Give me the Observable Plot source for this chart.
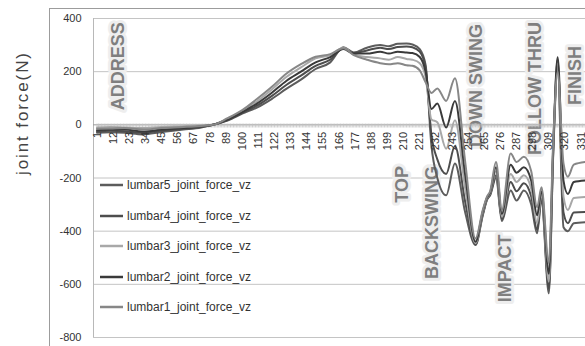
<!DOCTYPE html>
<html>
<head>
<meta charset="utf-8">
<script src="https://cdn.jsdelivr.net/npm/d3@7"></script>
<script src="https://cdn.jsdelivr.net/npm/@observablehq/plot@0.6"></script>
<style>
html,body{margin:0;padding:0;background:#fff;overflow:hidden;}
#wrap{position:relative;width:585px;height:346px;overflow:hidden;}
#border{position:absolute;left:49px;top:8px;width:700px;height:500px;border:1px solid #9c9c9c;box-sizing:border-box;pointer-events:none;}
#legend{position:absolute;left:100px;top:170px;font:12px "Liberation Sans",Arial,sans-serif;color:#333;}
#legend .item{height:30.5px;display:flex;align-items:center;}
#legend svg{display:block;margin-right:2px;}
</style>
</head>
<body>
<div id="wrap"><div id="chart"></div><div id="border"></div><div id="legend"></div></div>
<script>
const frames = [1,10,20,32,45,60,72,80, 90,100,110,120,130,140,150,160, 169,176,185,194,200,206,212,216, 221,225,229,233,239,245,252,259, 264,267,269,273,277,283,287,292, 297,301,304,309,312,315,319,322, 326,334];

const lumbar1 = [-15,-14,-12,-18,-12,-8,-4,0, 25,55,97,142,192,228,256,266, 288,262,245,232,228,232,224,222, 205,160,120,137,90,175,-140,-428, -320,-268,-250,-140,-320,-108,-140,-120, -175,-310,-235,-520,-60,200,-145,-195, -150,-140];
const lumbar2 = [-20,-18,-18,-25,-18,-12,-6,0, 20,48,80,120,165,200,235,255, 285,268,268,275,268,275,272,270, 255,200,60,80,-10,90,-190,-440, -325,-272,-255,-160,-335,-150,-180,-160, -210,-340,-250,-560,-80,254,-210,-260, -215,-209];
const lumbar3 = [-10,-8,-10,-12,-8,-5,-2,0, 23,52,88,132,180,216,250,262, 290,265,255,250,245,255,248,245, 232,180,20,10,-90,17,-240,-445, -330,-275,-258,-175,-345,-185,-215,-190, -240,-370,-262,-590,-90,230,-270,-320, -275,-271];
const lumbar4 = [-25,-22,-24,-30,-22,-15,-8,0, 18,45,72,108,150,185,222,245, 288,270,280,290,285,293,295,292, 275,215,-40,-130,-185,-80,-290,-450, -335,-278,-262,-190,-355,-215,-250,-220, -270,-395,-275,-615,-100,245,-330,-370, -330,-328];
const lumbar5 = [-30,-28,-30,-36,-27,-18,-10,0, 16,42,65,97,135,170,210,235, 292,272,290,300,296,305,306,302, 285,225,-80,-200,-265,-145,-330,-452, -340,-280,-265,-200,-362,-247,-285,-247, -300,-408,-285,-634,-110,220,-385,-400, -370,-366];

const seriesNames = ["lumbar5_joint_force_vz","lumbar4_joint_force_vz","lumbar3_joint_force_vz","lumbar2_joint_force_vz","lumbar1_joint_force_vz"];
const seriesColors = ["#5c5c5c","#4d4d4d","#a8a8a8","#3a3a3a","#878787"];
const seriesValues = [lumbar5, lumbar4, lumbar3, lumbar2, lumbar1];

const xTickLabels = [1,12,23,34,45,56,67,78,89,100,111,122,133,144,155,166,177,188,199,210,221,232,243,254,265,276,287,298,309,320,331];
const yTicks = [-800,-600,-400,-200,0,200,400];
const yGrid = [-800,-600,-400,-200,200,400];
const lastFrame = 334;
const xDomain = [-1.4, 334];

const phaseLabels = ["ADDRESS","TOP","BACKSWING","DOWN SWING","IMPACT","FOLLOW THRU","FINISH"];
const phaseX = [15.7, 209, 229.7, 259.7, 279.4, 299.9, 327];
const phaseY = [220, -224, -367, 148, -540, 137, 186];

const yTitle = "joint force(N)";

// build table
const rows = [];
seriesNames.forEach((name, s) => {
  seriesValues[s].forEach((v, k) => rows.push({series: name, x: frames[k], y: v}));
});
const allFrames = d3.range(1, lastFrame + 1);
const tickUp = 3, tickDown = -12;

const chart = Plot.plot({
  width: 585,
  height: 346,
  marginLeft: 93,
  marginTop: 18,
  marginBottom: 9,
  marginRight: 0,
  style: {fontFamily: "Liberation Sans, Arial, sans-serif", fontSize: "11px", color: "#333", background: "transparent"},
  x: {domain: xDomain, axis: null},
  y: {domain: [-800, 400], ticks: yTicks, tickSize: 0, tickPadding: 12, label: null, tickFormat: d => String(d)},
  color: {domain: seriesNames, range: seriesColors},
  marks: [
    Plot.ruleY(yGrid, {stroke: "#c4c4c4"}),
    Plot.ruleX([xDomain[0]], {stroke: "#b8b8b8"}),
    Plot.text(phaseLabels, {
      x: (d, i) => phaseX[i], y: (d, i) => phaseY[i], text: d => d,
      rotate: -90, fontSize: 18, fontWeight: "bold", fill: "#7f7f7f",
      stroke: "#eeeeee", strokeWidth: 6, paintOrder: "stroke"
    }),
    Plot.ruleY([0], {stroke: "#9a9a9a"}),
    Plot.ruleX(allFrames, {x: d => d, y1: tickUp, y2: tickDown, stroke: "#c2c2c2", strokeWidth: 0.8}),
    Plot.line(rows, {x: "x", y: "y", z: "series", stroke: "series", strokeWidth: 2, curve: "monotone-x", clip: true}),
    Plot.text(xTickLabels, {x: d => d, y: 0, text: d => String(d), rotate: -90, textAnchor: "end", dy: 7, fontSize: 11, fill: "#333"}),
    Plot.text([yTitle], {frameAnchor: "left", text: d => d, rotate: -90, dx: -71, dy: -3, fontSize: 17, fill: "#444"})
  ]
});
document.getElementById("chart").appendChild(chart);

// stretch the y title to match the wide original font
d3.select(chart).selectAll("text").filter(function(){ return this.textContent === yTitle; })
  .attr("textLength", 122).attr("lengthAdjust", "spacing");

// legend
const legend = document.getElementById("legend");
seriesNames.forEach((name, s) => {
  const item = document.createElement("div");
  item.className = "item";
  item.innerHTML = `<svg width="25" height="4"><line x1="0" x2="23" y1="2" y2="2" stroke="${seriesColors[s]}" stroke-width="2.5"/></svg><span>${name}</span>`;
  legend.appendChild(item);
});
</script>
</body>
</html>
